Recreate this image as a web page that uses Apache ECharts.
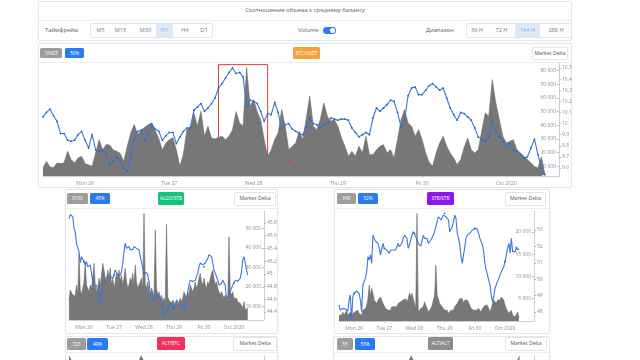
<!DOCTYPE html>
<html><head><meta charset="utf-8">
<script src="https://cdn.jsdelivr.net/npm/echarts@6.0.0/dist/echarts.min.js"></script>
<style>
html,body{margin:0;padding:0;width:640px;height:360px;overflow:hidden;background:#fff;font-family:"Open Sans",Lato,sans-serif;}
.abs{position:absolute;box-sizing:border-box;}
.card{position:absolute;box-sizing:border-box;border:1px solid #e3e6ea;background:#fff;box-shadow:0 0 2px rgba(0,0,0,0.06);border-radius:2px;}
.ctr{position:absolute;box-sizing:border-box;display:flex;align-items:center;justify-content:center;white-space:nowrap;line-height:1;}
.badge{color:#fff;font-size:4.6px;border-radius:1.5px;}
.btn{border:1px solid #e2e4e8;border-radius:1.5px;color:#555;font-size:5.2px;background:#fff;}
.tb{color:#777;font-size:5.6px;}
.hl{background:#dce9fd;color:#86b1f2;}
.txt{position:absolute;white-space:nowrap;color:#5a5a5a;font-size:6px;line-height:1;}
.hr{position:absolute;height:1px;background:#eceef1;}
#chart{position:absolute;left:0;top:0;width:640px;height:360px;}
</style></head>
<body>
<!-- header -->
<div class="card" style="left:38px;top:1px;width:534px;height:40px"></div>
<div class="hr" style="left:39px;top:20px;width:532px"></div>
<div class="txt" style="left:38px;top:8px;width:534px;text-align:center;font-size:5.8px;color:#5a5a5a">Соотношение объема к среднему балансу</div>
<div class="txt" style="left:45px;top:27.5px;font-size:5.8px">Таймфрейм</div>
<div class="abs" style="left:90px;top:23px;width:123px;height:15px;border:1px solid #e4e6ea;border-radius:2px"></div>
<div class="ctr tb" style="left:92px;top:24px;width:17px;height:13px">M5</div>
<div class="ctr tb" style="left:111px;top:24px;width:19px;height:13px">M15</div>
<div class="ctr tb" style="left:135px;top:24px;width:21px;height:13px">M30</div>
<div class="ctr tb hl" style="left:156px;top:24px;width:17px;height:13px">H1</div>
<div class="ctr tb" style="left:176px;top:24px;width:18px;height:13px">H4</div>
<div class="ctr tb" style="left:196px;top:24px;width:16px;height:13px">D1</div>
<div class="txt" style="left:298px;top:27.5px;font-size:5.8px">Volume</div>
<div class="abs" style="left:323px;top:26.5px;width:13px;height:7.5px;border-radius:4px;background:#2d7cf6"></div>
<div class="abs" style="left:329.5px;top:27.5px;width:5.5px;height:5.5px;border-radius:3px;background:#fff"></div>
<div class="txt" style="left:426px;top:27.5px;font-size:5.8px">Диапазон</div>
<div class="abs" style="left:466px;top:23px;width:106px;height:15px;border:1px solid #e4e6ea;border-radius:2px"></div>
<div class="ctr tb" style="left:468px;top:24px;width:18px;height:13px">36 H</div>
<div class="ctr tb" style="left:492px;top:24px;width:19px;height:13px">72 H</div>
<div class="ctr tb hl" style="left:515px;top:24px;width:25px;height:13px">144 H</div>
<div class="ctr tb" style="left:544px;top:24px;width:24px;height:13px">288 H</div>

<!-- main card -->
<div class="card" style="left:38px;top:43px;width:534px;height:145px"></div>
<div class="hr" style="left:39px;top:62px;width:532px"></div>
<div class="ctr badge" style="left:40px;top:48px;width:22px;height:10px;background:#9d9d9d">16423</div>
<div class="ctr badge" style="left:65px;top:48px;width:19px;height:10px;background:#2b7bf0">50%</div>
<div class="ctr badge" style="left:293px;top:47px;width:27px;height:12px;background:#f3a33c">BTC/USDT</div>
<div class="ctr btn" style="left:532px;top:47px;width:36px;height:13px">Market Delta</div>

<!-- left card -->
<div class="card" style="left:65px;top:189px;width:213px;height:145px"></div>
<div class="hr" style="left:66px;top:208px;width:211px"></div>
<div class="ctr badge" style="left:67px;top:193px;width:21px;height:11px;background:#9d9d9d">8160</div>
<div class="ctr badge" style="left:90px;top:193px;width:20px;height:11px;background:#2b7bf0">43%</div>
<div class="ctr badge" style="left:158px;top:192px;width:26px;height:13px;background:#13c27b">ALGO/STB</div>
<div class="ctr btn" style="left:234px;top:192px;width:42px;height:14px">Market Delta</div>

<!-- right card -->
<div class="card" style="left:334px;top:189px;width:216px;height:145px"></div>
<div class="hr" style="left:335px;top:208px;width:214px"></div>
<div class="ctr badge" style="left:337px;top:193px;width:19px;height:11px;background:#9d9d9d">843</div>
<div class="ctr badge" style="left:358px;top:193px;width:20px;height:11px;background:#2b7bf0">52%</div>
<div class="ctr badge" style="left:427px;top:192px;width:27px;height:13px;background:#8b17ea">STB/STB</div>
<div class="ctr btn" style="left:505px;top:192px;width:41px;height:14px">Market Delta</div>

<!-- bottom cards -->
<div class="card" style="left:65px;top:336px;width:213px;height:40px"></div>
<div class="hr" style="left:66px;top:352px;width:211px"></div>
<div class="ctr badge" style="left:67px;top:338px;width:19px;height:12px;background:#9d9d9d">723</div>
<div class="ctr badge" style="left:87px;top:338px;width:21px;height:12px;background:#2b7bf0">49%</div>
<div class="ctr badge" style="left:157px;top:337px;width:28px;height:13px;background:#f2325c">ALT/BTC</div>
<div class="ctr btn" style="left:233px;top:337px;width:44px;height:14px">Market Delta</div>

<div class="card" style="left:333px;top:336px;width:217px;height:40px"></div>
<div class="hr" style="left:334px;top:352px;width:215px"></div>
<div class="ctr badge" style="left:337px;top:338px;width:16px;height:12px;background:#9d9d9d">55</div>
<div class="ctr badge" style="left:355px;top:338px;width:20px;height:12px;background:#2b7bf0">53%</div>
<div class="ctr badge" style="left:428px;top:337px;width:25px;height:13px;background:#8d8d8d">ALT/ALT</div>
<div class="ctr btn" style="left:505px;top:337px;width:42px;height:14px">Market Delta</div>

<div id="chart"></div>
<script>
// ---- data ----
const dayTicks = ['Mon 26','Tue 27','Wed 28','Thu 29','Fri 30','Oct 2020'];

const btcVolume = [9000,13600,9500,9000,12400,12000,12500,21000,15000,12400,
16000,17300,12000,11000,10000,19800,29500,22000,25900,25500,
22000,21000,19500,13600,24600,34400,40500,33000,36800,38500,
40500,41700,36000,30000,22000,27000,29500,31000,22000,10000,
19000,37000,39300,49000,39300,50200,32000,39300,30700,30000,
31000,32000,29500,31900,36800,50000,41700,39300,82300,53900,
58800,50000,44000,29500,17300,22000,29500,34400,51500,39300,
22200,24600,27100,35600,29500,45000,61200,39300,36800,44200,
56400,46600,42900,44200,39300,31000,24600,17300,20900,17300,
24600,19800,31900,18500,18500,22000,24600,25800,19800,22200,
16100,29500,44200,51500,41700,39300,31900,36800,29500,19800,
13000,10000,19800,27000,31900,24600,19800,16000,11200,14900,
24000,30700,22200,19800,22200,36000,49000,46600,73400,56400,
44200,31900,27100,28300,29500,22200,19800,17300,14900,12400,
9900,8800,17000,4000];

const btcPrice = [10.06,10.10,10.13,10.07,10.02,9.91,9.91,9.85,9.84,9.85,
9.90,9.93,9.85,9.78,9.90,9.76,9.75,9.76,9.72,9.63,
9.66,9.70,9.66,9.60,9.57,9.70,9.85,9.93,9.94,9.85,
9.91,9.99,9.95,9.93,9.85,9.89,9.92,9.92,9.82,9.88,
9.93,9.96,9.96,10.12,10.15,10.18,10.11,10.14,10.18,10.23,
10.32,10.36,10.41,10.46,10.50,10.45,10.46,10.42,10.15,10.21,
10.20,10.18,10.11,10.02,10.09,10.08,10.19,10.10,9.95,9.99,
10.00,9.95,9.93,9.91,9.90,9.97,10.05,10.00,9.99,9.97,
9.99,10.00,10.05,10.04,10.03,10.04,10.04,10.03,9.96,9.92,
9.88,9.90,9.92,9.90,10.05,10.14,10.11,10.14,10.17,10.21,
10.20,10.10,9.97,10.03,10.25,10.32,10.33,10.26,10.26,10.30,
10.34,10.36,10.33,10.30,10.32,10.23,10.14,10.08,10.03,10.10,
10.09,10.06,10.03,9.96,9.88,9.86,9.84,9.88,10.02,9.93,
9.88,9.84,9.79,9.82,9.76,9.75,9.72,9.69,9.70,9.78,
9.86,9.72,9.60,9.54];

const algoVolume = [13400,18500,17600,16000,16000,15500,21000,16000,37000,18500,
16000,19400,22700,32900,21000,19400,17600,21000,19400,24500,
32100,21000,17600,19400,24500,21000,26100,32100,28700,24500,
22700,28700,24500,29600,21000,24500,19400,22700,27000,24500,
28700,22700,26100,21000,24500,29600,22700,19400,21000,24500,
22700,27000,21000,31300,22700,19400,21000,22700,24500,19400,
57600,21000,19400,22700,17600,16000,19400,17600,15000,49100,
19400,16000,17600,14300,16000,12500,14300,12500,52000,15100,
13400,14300,11700,13400,12500,10900,12500,10900,12500,14300,
12500,14300,17600,16000,14300,17600,16000,21000,19400,17600,
19400,22700,19400,21000,24500,27000,22700,21000,24500,21000,
19400,22700,21000,24500,27000,28700,24500,21000,22700,19400,
17600,16000,17600,16000,14300,16000,14300,12500,45700,17600,
16000,17600,14300,15100,14300,12500,13400,11700,10900,9200,
12500,8300,7500,9200];

const algoPrice = [45.87,45.93,45.95,45.90,45.72,45.66,45.48,45.45,45.35,45.17,
45.27,45.24,45.19,45.14,45.19,45.11,45.09,45.14,45.01,44.88,
44.82,44.85,44.82,44.72,44.59,44.48,44.67,44.80,44.85,44.90,
44.93,44.98,45.01,44.96,44.98,44.93,44.98,45.06,45.03,44.98,
45.01,44.98,45.03,45.17,45.35,45.48,45.40,45.38,45.43,45.38,
45.40,45.38,45.43,45.45,45.40,45.43,45.38,45.27,45.19,45.09,
45.01,45.03,45.02,44.98,44.88,44.67,44.61,44.56,44.59,44.61,
44.64,44.67,44.69,44.61,44.53,44.46,44.32,44.30,44.38,44.46,
44.53,44.56,44.51,44.43,44.46,44.51,44.59,44.56,44.51,44.48,
44.51,44.51,44.48,44.43,44.43,44.72,44.82,44.90,44.88,44.88,
44.85,44.90,44.93,45.01,45.11,45.17,45.19,45.14,45.11,45.17,
45.19,45.24,45.30,45.32,45.27,45.17,45.06,45.01,44.98,44.90,
44.82,44.82,44.85,44.90,44.88,44.82,44.59,44.64,44.67,44.72,
44.77,44.82,44.85,44.90,44.90,44.88,44.88,44.93,45.03,45.22,
45.27,45.17,45.06,44.98];

const stbVolume = [1300,1700,1300,2000,1300,1700,2400,1300,1700,2000,
900,1700,1300,2100,1700,2400,1700,2000,1300,2400,
2000,2800,3500,5000,8000,5800,7300,6200,4700,5000,
3900,4700,4300,5400,5000,3900,3500,2800,3200,2400,
2800,2400,3200,2800,3200,3500,3200,3900,3500,4300,
3900,4700,4300,5000,4300,5000,6200,5400,6200,5000,
3900,2800,24100,2000,2400,2800,2400,3200,4300,3500,
2800,2000,2400,2800,3500,4700,5800,12500,5800,5000,
3900,3500,3200,2800,2400,2000,2400,1700,2000,2400,
2800,2400,3200,3500,3900,4300,5000,4700,5000,3900,
4700,4300,4700,4300,3500,2800,3200,2400,2000,2400,
2000,2800,2400,2000,2800,3200,3500,3900,3500,2800,
2000,2800,3900,4700,5000,3900,4700,5000,4700,5400,
5800,4700,3500,2800,2400,1700,2000,2400,1300,1700,
900,1300,2000,700];

const stbPrice = [48.43,48.12,48.18,48.22,48.12,48.18,48.26,48.06,48.73,49.04,
47.51,48.93,49.14,49.24,49.28,49.34,49.14,48.73,48.02,49.65,
49.54,50.05,50.46,51.37,51.17,51.48,50.97,52.69,52.49,52.33,
52.29,52.19,51.88,51.48,51.88,52.19,51.88,51.98,51.78,51.68,
51.58,51.78,51.88,51.78,51.68,51.78,51.98,52.19,51.98,51.88,
52.19,52.49,52.69,52.59,52.49,51.88,52.09,52.39,52.69,52.90,
52.80,52.59,52.39,52.19,52.09,52.02,51.98,52.69,52.49,52.59,
52.49,52.19,52.29,52.39,52.49,52.69,52.90,53.20,53.51,53.81,
53.71,53.61,53.61,53.91,54.02,53.81,53.71,53.61,52.90,52.80,
53.20,53.51,53.91,53.71,52.80,52.49,52.09,51.37,50.97,51.48,
51.98,52.49,52.69,52.59,52.80,52.80,53.00,53.10,53.10,53.10,
53.06,53.00,52.49,52.29,52.09,51.68,50.97,50.56,50.26,49.95,
49.65,49.04,48.63,48.93,49.44,49.65,49.85,50.05,50.26,50.46,
50.56,50.76,51.07,51.48,51.88,52.19,51.58,52.49,51.68,51.58,
51.68,51.98,51.78,51.88];

const altBtcVolume = [30000,11000,9000,12000,8000,10000,12000,9000,8000,10000,30000,10000,8000,11000,9000,8000,7000,9000,11000,8000,10000,8000,7000,8000,6000,5000];
const altAltVolume = [5000,4000,6000,5500,4000,7000,5000,6000,5500,7000,20000,6000,5000,7000,6500,5000,6000,7000,6500,5500,6000,7000,6000,5000,6500,20000];

const btcVolTicks = [10000,20000,30000,40000,50000,60000,70000,80000];
const btcPriceTicks = [9.6,9.7,9.8,9.9,10.0,10.1,10.2,10.3,10.4,10.5];
const algoVolTicks = [10000,20000,30000,40000,50000];
const algoPriceTicks = [44.4,44.6,44.8,45.0,45.2,45.4,45.6,45.8];
const stbVolTicks = [5000,10000,15000,20000];
const stbPriceTicks = [48,49,50,51,52,53];

// highlighted window and marker on the main chart
const boxRange = {from: 50, to: 64, top: 84400, bottom: 10500};
const redMark = {index: 70, value: 13600};

// ---- categories (hourly, starting Sep 25 12:00) ----
function hourCats(n){
  const c = [];
  for (let k = 0; k < n; k++) {
    const t = 12 + k, d = 25 + Math.floor(t / 24), h = t % 24;
    const day = d > 30 ? 'Oct ' + (d - 30) : 'Sep ' + d;
    c.push(day + ' ' + String(h).padStart(2, '0') + ':00');
  }
  return c;
}
const tickMap = {'Sep 26 00:00':dayTicks[0],'Sep 27 00:00':dayTicks[1],'Sep 28 00:00':dayTicks[2],
  'Sep 29 00:00':dayTicks[3],'Sep 30 00:00':dayTicks[4],'Oct 1 00:00':dayTicks[5]};
const shortCats = Array.from({length:28}, (_, i) => 'p' + i);

const fmtK = v => String(Math.round(v)).replace(/\B(?=(\d{3})+(?!\d))/g, ' ');
const fmtP = v => String(parseFloat(v.toFixed(1)));
const LBL = '#8d8d8d', AX = '#c6d1de';

function xAx(gi, cats, show){
  const isTick = (i, v) => tickMap[v] !== undefined;
  return {type:'category', gridIndex:gi, data:cats, boundaryGap:false, show: show,
    axisLine:{lineStyle:{color:AX, width:1}},
    axisTick:{show:true, interval:isTick, length:2, lineStyle:{color:AX}},
    axisLabel:{interval:isTick, formatter:v => tickMap[v] || '', fontSize:5, color:LBL, margin:5},
    splitLine:{show:false}};
}
function volAx(gi, min, max, ticks){
  return {type:'value', gridIndex:gi, position:'right', min, max, splitLine:{show:false},
    axisLine:{show:false},
    axisTick:{show:true, inside:true, length:2, customValues:ticks, lineStyle:{color:'#b5b5b5'}},
    axisLabel:{inside:true, customValues:ticks, formatter:fmtK, fontSize:5, color:LBL, margin:3}};
}
function priceAx(gi, min, max, ticks){
  return {type:'value', gridIndex:gi, position:'right', min, max, splitLine:{show:false},
    axisLine:{show:true, lineStyle:{color:AX}},
    axisTick:{show:true, length:2, customValues:ticks, lineStyle:{color:'#b5b5b5'}},
    axisLabel:{customValues:ticks, formatter:fmtP, fontSize:5, color:LBL, margin:3}};
}
function area(xi, yi, data){
  return {type:'line', xAxisIndex:xi, yAxisIndex:yi, data, symbol:'none', z:1,
    lineStyle:{width:0.6, color:'#6c6c6c'}, areaStyle:{color:'#777777', opacity:1}};
}
function priceLine(xi, yi, data){
  return {type:'line', xAxisIndex:xi, yAxisIndex:yi, data, symbol:'circle', symbolSize:1.8, showSymbol:true, z:3,
    itemStyle:{color:'#2f64bd'}, lineStyle:{width:1.1, color:'#3c76d6'}};
}

const mainCats = hourCats(148), algoCats = hourCats(157), stbCats = hourCats(156);

const mainArea = area(0, 0, btcVolume);
mainArea.markArea = {silent:true, itemStyle:{color:'rgba(0,0,0,0)', borderColor:'#e03c3c', borderWidth:1},
  data:[[{xAxis:mainCats[boxRange.from], yAxis:boxRange.top},{xAxis:mainCats[boxRange.to], yAxis:boxRange.bottom}]]};
mainArea.markPoint = {silent:true, symbol:'rect', symbolSize:[5,1.2], itemStyle:{color:'#e03c3c'}, label:{show:false},
  data:[{coord:[mainCats[redMark.index], redMark.value]}]};

const option = {
  animation:false,
  backgroundColor:'transparent',
  textStyle:{fontFamily:'"Open Sans", Lato, sans-serif'},
  grid:[
    {left:43, right:81, top:63, bottom:184},
    {left:69, right:376, top:211, bottom:40},
    {left:339, right:106, top:211, bottom:39},
    {left:69, right:376, top:356, height:90},
    {left:339, right:106, top:356, height:90}
  ],
  xAxis:[
    xAx(0, mainCats, true), xAx(1, algoCats, true), xAx(2, stbCats, true),
    {type:'category', gridIndex:3, data:shortCats, boundaryGap:false, show:false},
    {type:'category', gridIndex:4, data:shortCats, boundaryGap:false, show:false}
  ],
  yAxis:[
    volAx(0, 2900, 85600, btcVolTicks), priceAx(0, 9.528, 10.545, btcPriceTicks),
    volAx(1, 3200, 58800, algoVolTicks), priceAx(1, 44.272, 45.989, algoPriceTicks),
    volAx(2, 0, 24660, stbVolTicks), priceAx(2, 47.45, 54.16, stbPriceTicks),
    {type:'value', gridIndex:3, position:'right', min:0, max:30000, splitLine:{show:false}, axisLabel:{show:false}, axisTick:{show:false}, axisLine:{show:true, lineStyle:{color:AX}}},
    {type:'value', gridIndex:4, position:'right', min:0, max:20000, splitLine:{show:false}, axisLabel:{show:false}, axisTick:{show:false}, axisLine:{show:true, lineStyle:{color:AX}}}
  ],
  series:[
    mainArea, priceLine(0, 1, btcPrice),
    area(1, 2, algoVolume), priceLine(1, 3, algoPrice),
    area(2, 4, stbVolume), priceLine(2, 5, stbPrice),
    area(3, 6, altBtcVolume), area(4, 7, altAltVolume)
  ]
};
const chart = echarts.init(document.getElementById('chart'), null, {renderer:'canvas'});
chart.setOption(option);
</script>
</body></html>
